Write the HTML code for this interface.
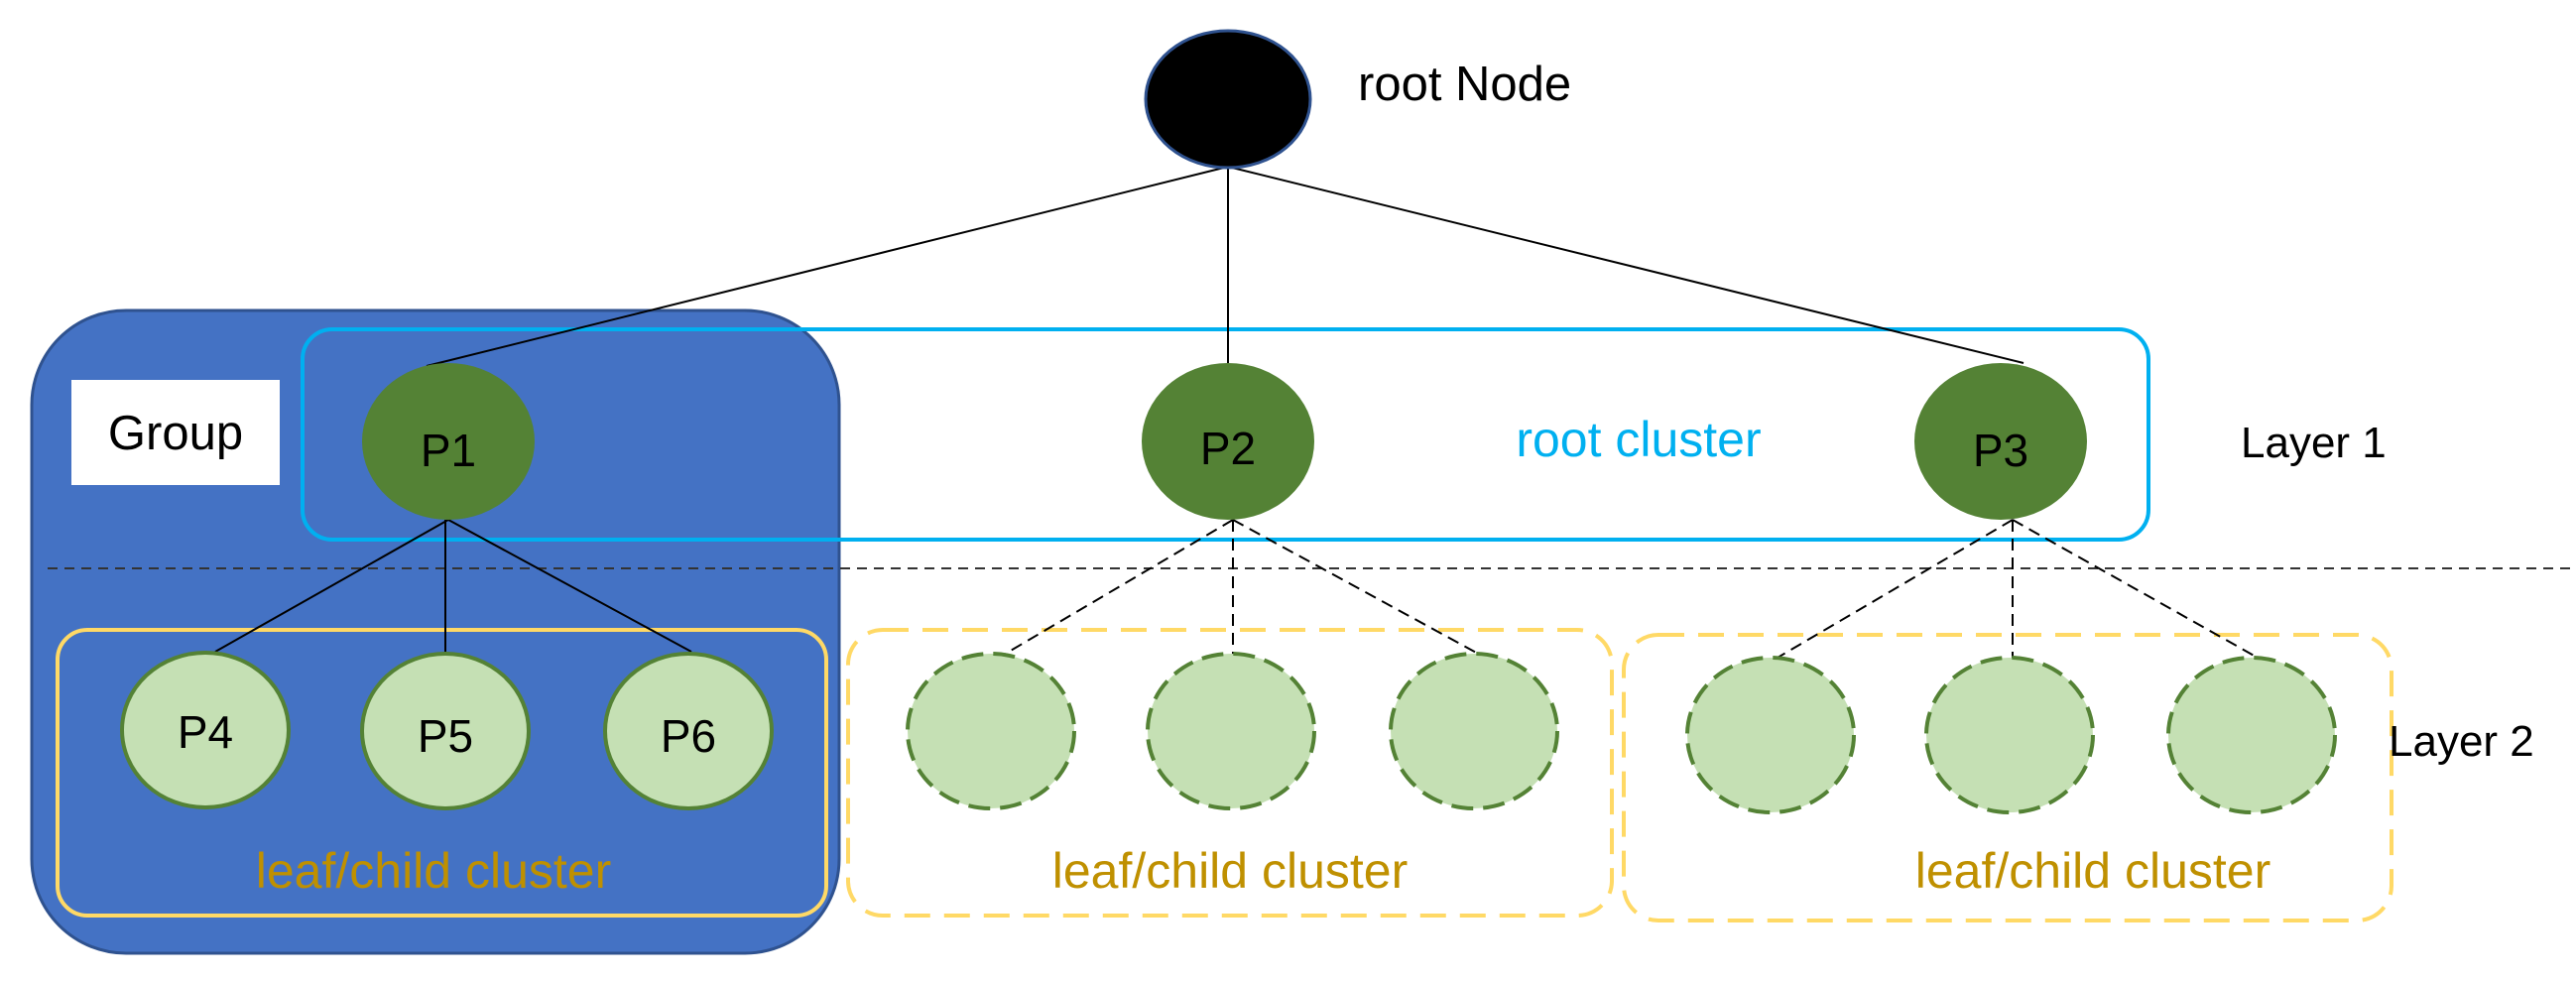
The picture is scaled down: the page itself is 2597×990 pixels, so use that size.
<!DOCTYPE html>
<html><head><meta charset="utf-8"><style>
html,body{margin:0;padding:0;background:#fff;}
svg{display:block;}
text{font-family:"Liberation Sans",sans-serif;}
</style></head><body>
<svg width="2597" height="990" viewBox="0 0 2597 990" xmlns="http://www.w3.org/2000/svg">
<rect x="32" y="313" width="814" height="648" rx="95" ry="95" fill="#4472C4" stroke="#2F528F" stroke-width="3"/>
<rect x="72" y="383" width="210" height="106" fill="#fff"/>
<text x="177" y="453" font-size="49" text-anchor="middle" fill="#000">Group</text>
<rect x="305" y="332" width="1861" height="212" rx="30" ry="30" fill="none" stroke="#00B0F0" stroke-width="4"/>
<text x="1652" y="460" font-size="50" text-anchor="middle" fill="#00B0F0">root cluster</text>
<line x1="48" y1="573" x2="2597" y2="573" stroke="#333" stroke-width="2" stroke-dasharray="10,7"/>
<rect x="58" y="635" width="775" height="288" rx="30" ry="30" fill="none" stroke="#FFD966" stroke-width="4"/>
<rect x="855" y="635" width="770" height="288" rx="35" ry="35" fill="none" stroke="#FFD966" stroke-width="4" stroke-dasharray="26,14"/>
<rect x="1637" y="640" width="774" height="288" rx="35" ry="35" fill="none" stroke="#FFD966" stroke-width="4" stroke-dasharray="26,14"/>
<g font-size="50" fill="#BF9000" text-anchor="middle">
<text x="437" y="895">leaf/child cluster</text>
<text x="1240" y="895">leaf/child cluster</text>
<text x="2110" y="895">leaf/child cluster</text>
</g>
<g stroke="#000" stroke-width="2">
<line x1="1238" y1="168" x2="430" y2="369"/>
<line x1="1238" y1="168" x2="1238" y2="366"/>
<line x1="1238" y1="168" x2="2040" y2="366"/>
<line x1="452" y1="524" x2="217" y2="657"/>
<line x1="449" y1="524" x2="449" y2="658"/>
<line x1="452" y1="524" x2="697" y2="657"/>
</g>
<g stroke="#000" stroke-width="2" stroke-dasharray="12,7">
<line x1="1243" y1="524" x2="1012" y2="660"/>
<line x1="1243" y1="524" x2="1243" y2="660"/>
<line x1="1243" y1="524" x2="1492" y2="660"/>
<line x1="2029" y1="524" x2="1792" y2="663"/>
<line x1="2029" y1="524" x2="2029" y2="663"/>
<line x1="2029" y1="524" x2="2276" y2="663"/>
</g>
<ellipse cx="1238" cy="100" rx="83" ry="69" fill="#000" stroke="#2F528F" stroke-width="3"/>
<text x="1369" y="101" font-size="49" fill="#000">root Node</text>
<g fill="#548235">
<ellipse cx="452" cy="445" rx="87" ry="79"/>
<ellipse cx="1238" cy="445" rx="87" ry="79"/>
<ellipse cx="2017" cy="445" rx="87" ry="79"/>
</g>
<g font-size="46" fill="#000" text-anchor="middle">
<text x="452" y="470">P1</text>
<text x="1238" y="468">P2</text>
<text x="2017" y="470">P3</text>
</g>
<text x="2259" y="461" font-size="44" fill="#000">Layer 1</text>
<text x="2408" y="762" font-size="44" fill="#000">Layer 2</text>
<g fill="#C5E0B4" stroke="#548235" stroke-width="4">
<ellipse cx="207" cy="736" rx="84" ry="78"/>
<ellipse cx="449" cy="737" rx="84" ry="78"/>
<ellipse cx="694" cy="737" rx="84" ry="78"/>
</g>
<g fill="#C5E0B4" stroke="#548235" stroke-width="4" stroke-dasharray="22,10">
<ellipse cx="999" cy="737" rx="84" ry="78"/>
<ellipse cx="1241" cy="737" rx="84" ry="78"/>
<ellipse cx="1486" cy="737" rx="84" ry="78"/>
<ellipse cx="1785" cy="741" rx="84" ry="78"/>
<ellipse cx="2026" cy="741" rx="84" ry="78"/>
<ellipse cx="2270" cy="741" rx="84" ry="78"/>
</g>
<g font-size="46" fill="#000" text-anchor="middle">
<text x="207" y="754">P4</text>
<text x="449" y="758">P5</text>
<text x="694" y="758">P6</text>
</g>
</svg>
</body></html>
